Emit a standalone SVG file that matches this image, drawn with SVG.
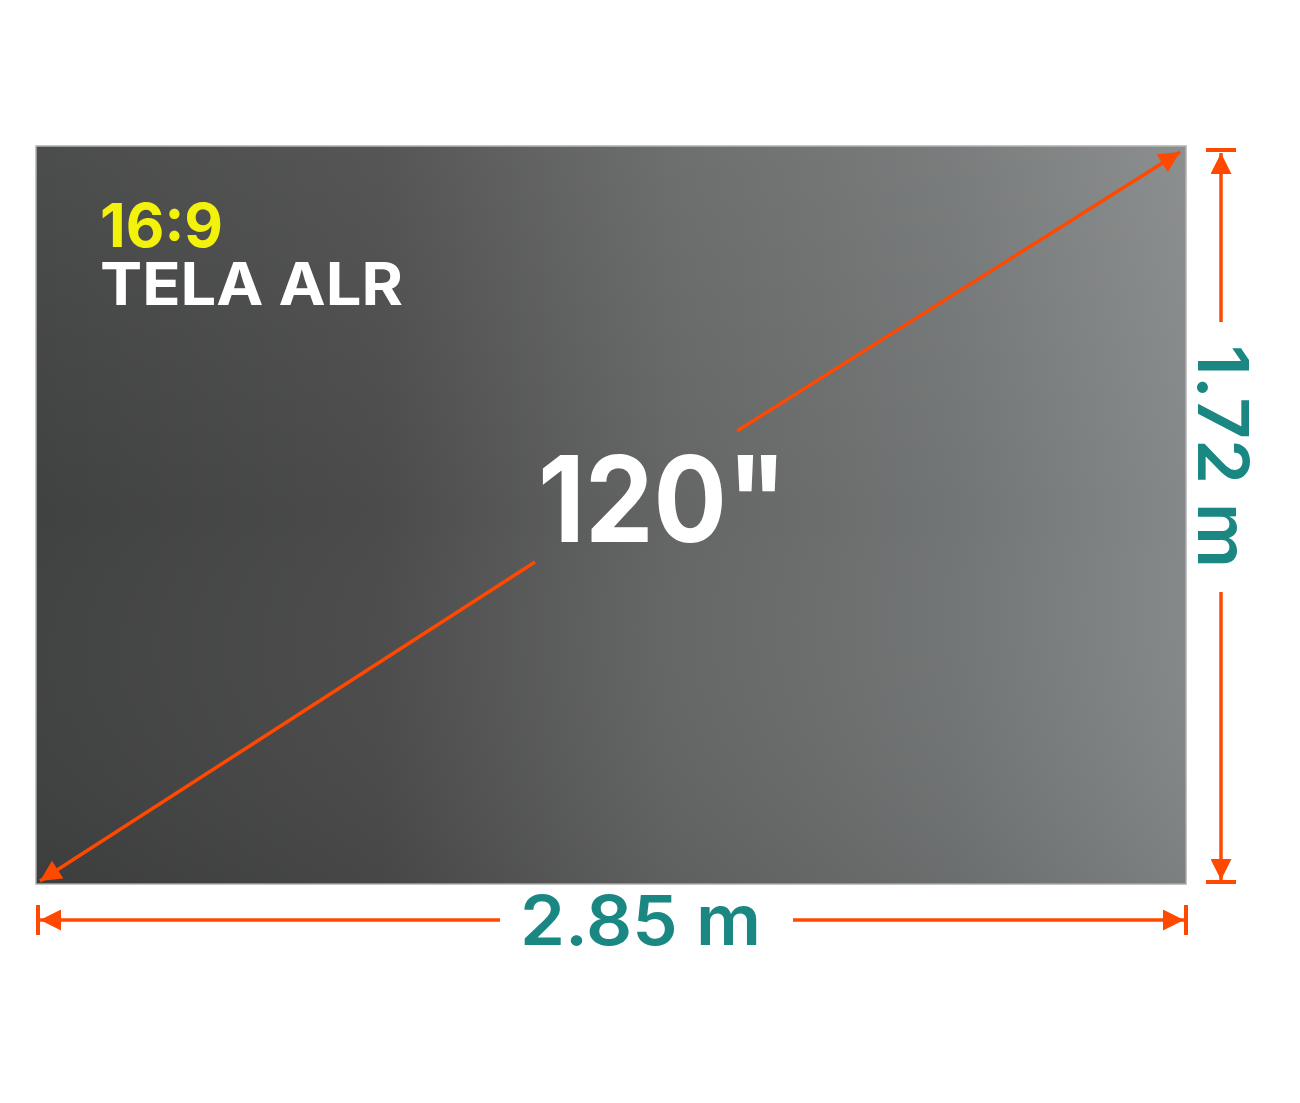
<svg xmlns="http://www.w3.org/2000/svg" width="1300" height="1103" viewBox="0 0 1300 1103">
<style>
.dim{stroke:#ff4800;stroke-width:3.5;fill:none}
.tick{stroke:#ff4800;stroke-width:4;fill:none}
.lbl{font-family:Inter,"Open Sans","Liberation Sans",sans-serif;font-weight:600;fill:#1a8783}
.big{font-family:Inter,"Open Sans","Liberation Sans",sans-serif;font-weight:700;fill:#ffffff}
</style>
<defs>
<linearGradient id="gx" x1="0" y1="0" x2="1" y2="0">
<stop offset="0" stop-color="#404141"/>
<stop offset="0.3" stop-color="#4b4b4b"/>
<stop offset="0.55" stop-color="#646565"/>
<stop offset="0.8" stop-color="#727575"/>
<stop offset="1" stop-color="#858888"/>
</linearGradient>
<linearGradient id="gy" x1="0" y1="0" x2="0" y2="1">
<stop offset="0" stop-color="#ffffff" stop-opacity="0.06"/>
<stop offset="0.5" stop-color="#ffffff" stop-opacity="0"/>
<stop offset="1" stop-color="#000000" stop-opacity="0.06"/>
</linearGradient>
<marker id="ah" viewBox="0 0 10 10" refX="10" refY="5" markerWidth="7" markerHeight="6" markerUnits="strokeWidth" orient="auto">
<path d="M0,0 L10,5 L0,10 Z" fill="#ff4800"/>
</marker>
</defs>
<rect width="1300" height="1103" fill="#ffffff"/>
<g id="screen">
<rect x="36" y="146" width="1150" height="738" fill="url(#gx)" stroke="#b0b0b0" stroke-width="1.5"/>
<rect x="36" y="146" width="1150" height="738" fill="url(#gy)"/>
</g>
<g id="connectors">
<line class="dim" x1="737" y1="431" x2="1180" y2="152" marker-end="url(#ah)"/>
<line class="dim" x1="535" y1="562" x2="40" y2="881" marker-end="url(#ah)"/>
<line class="tick" x1="1206" y1="150" x2="1236" y2="150"/>
<line class="dim" x1="1221" y1="322" x2="1221" y2="153" marker-end="url(#ah)"/>
<line class="dim" x1="1221" y1="592" x2="1221" y2="880" marker-end="url(#ah)"/>
<line class="tick" x1="1206" y1="882" x2="1236" y2="882"/>
<line class="tick" x1="38" y1="905" x2="38" y2="935"/>
<line class="dim" x1="500" y1="920" x2="40" y2="920" marker-end="url(#ah)"/>
<line class="dim" x1="793" y1="920" x2="1184" y2="920" marker-end="url(#ah)"/>
<line class="tick" x1="1186" y1="905" x2="1186" y2="935"/>
</g>
<g id="title">
<text x="100" y="247" font-family="Inter,'Open Sans','Liberation Sans',sans-serif" font-weight="700" font-size="61" fill="#f2f20a" textLength="123" lengthAdjust="spacingAndGlyphs">16:9</text>
<text x="100" y="305" font-family="Inter,'Open Sans','Liberation Sans',sans-serif" font-weight="700" font-size="59" fill="#ffffff" textLength="303" lengthAdjust="spacingAndGlyphs">TELA ALR</text>
</g>
<g id="diagonal-label">
<text class="big" x="538" y="542" font-size="120" textLength="249" lengthAdjust="spacingAndGlyphs">120"</text>
</g>
<g id="width-label">
<text class="lbl" x="520" y="945" font-size="69" textLength="241" lengthAdjust="spacingAndGlyphs">2.85 m</text>
</g>
<g id="height-label">
<text class="lbl" transform="translate(1198,345) rotate(90)" x="0" y="0" font-size="70" textLength="223" lengthAdjust="spacingAndGlyphs">1.72 m</text>
</g>
</svg>
